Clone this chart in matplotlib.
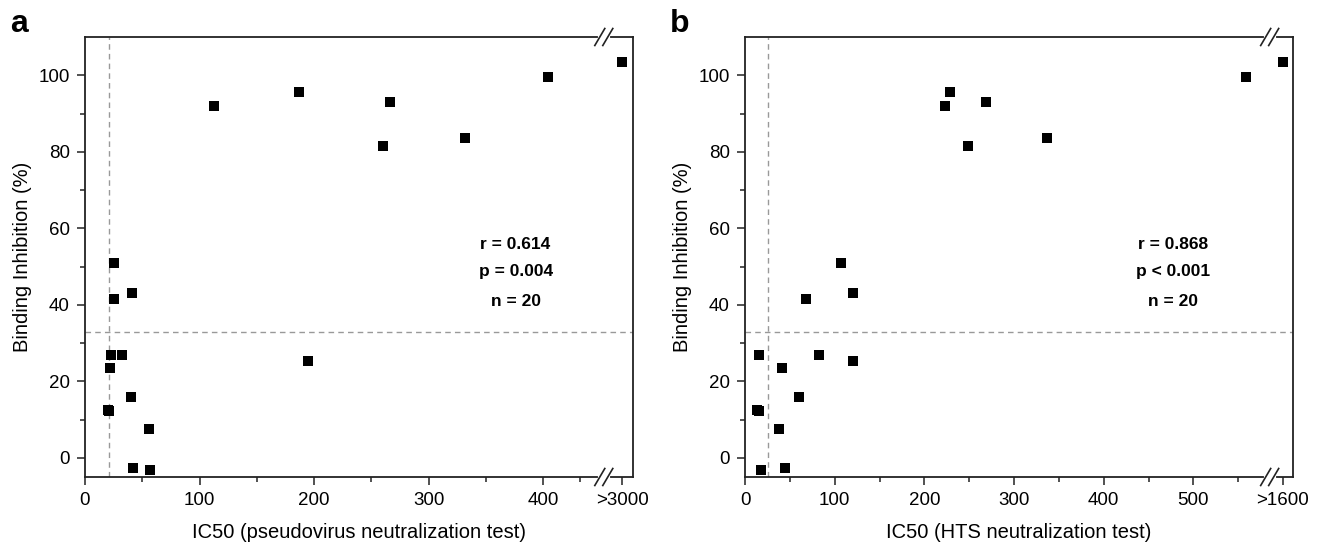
import matplotlib.pyplot as plt
from matplotlib.lines import Line2D

plt.rcParams['font.family'] = ['Liberation Sans', 'DejaVu Sans']

# ---- data ----
# binding inhibition (%) per serum, same sample order in both panels
inhib = [91.9, 95.6, 93.1, 81.5, 83.5, 99.6, 103.5, 51.0, 43.1, 41.4,
         27.0, 27.0, 23.4, 25.2, 16.0, 12.4, 12.2, 7.6, -2.7, -3.3]
# IC50 values; the off-scale sample sits on the ">3000" / ">1600" slot
ic50_pseudo = [113, 187, 266, 260, 332, 404, 469, 25, 41, 25,
               23, 32, 22, 195, 40, 20, 21, 56, 42, 57]
ic50_hts = [223, 229, 269, 249, 337, 559, 600, 107, 120, 68,
            16, 82, 41, 120, 60, 13, 16, 38, 45, 18]

stats_a = ["r = 0.614", "p = 0.004", "n = 20"]
stats_b = ["r = 0.868", "p < 0.001", "n = 20"]

W, H = 1320, 546
fig = plt.figure(figsize=(W / 100, H / 100), dpi=100)

AX_W, AX_H = 548, 440
line_col = "#222222"


def panel(left_px, x, letter, xlabel, xmax, xbreak, off_pos, off_label,
          majors, minors, vline, stats, stats_x):
    ax = fig.add_axes([left_px / W, 1 - 477 / H, AX_W / W, AX_H / H])
    ax.scatter(x, inhib, marker="s", s=52, color="black", zorder=3,
               linewidths=0)
    ax.set_xlim(0, xmax)
    ax.set_ylim(-5, 110)

    ax.axvline(vline, color="#999999", lw=1, ls=(0, (4, 3)), zorder=1)
    ax.axhline(33, color="#999999", lw=1, ls=(0, (4, 3)), zorder=1)

    ax.set_xticks(majors + [off_pos])
    ax.set_xticklabels([str(v) for v in majors] + [off_label])
    ax.set_xticks(minors, minor=True)
    ax.set_yticks([0, 20, 40, 60, 80, 100])
    ax.set_yticks([10, 30, 50, 70, 90], minor=True)
    ax.tick_params(which="major", length=6, width=1.1, color=line_col,
                   labelsize=13.5, pad=5)
    ax.tick_params(which="minor", length=3.5, width=1.1, color=line_col)
    for s in ax.spines.values():
        s.set_color(line_col)
        s.set_linewidth(1.3)

    ax.set_xlabel(xlabel, fontsize=14.5)
    ax.xaxis.set_label_coords(0.5, -0.105)
    ax.set_ylabel("Binding Inhibition (%)", fontsize=14.5)
    ax.yaxis.set_label_coords(-0.097, 0.5)

    for t, yy in zip(stats, [55.7, 48.6, 41.0]):
        ax.text(stats_x, yy, t, ha="center", va="center", fontsize=12.5,
                fontweight="bold")

    # axis break marks on top and bottom spines
    cx = xbreak / xmax
    px, py = 1 / AX_W, 1 / AX_H
    for yb in (0, 1):
        ax.add_line(Line2D([cx - 4 * px, cx + 4 * px], [yb, yb], color="white",
                           lw=3, transform=ax.transAxes, clip_on=False,
                           zorder=5))
        for off in (-4, 4):
            ax.add_line(Line2D([cx + (off - 5) * px, cx + (off + 5) * px],
                               [yb - 8.5 * py, yb + 8.5 * py], color=line_col,
                               lw=1.2, transform=ax.transAxes, clip_on=False,
                               zorder=6))

    fig.text((left_px - 75) / W, 1 - 32 / H, letter, fontsize=23,
             fontweight="bold", ha="left", va="baseline")
    return ax


panel(85, ic50_pseudo, "a", "IC50 (pseudovirus neutralization test)",
      478.5, 453, 469, ">3000", [0, 100, 200, 300, 400],
      [50, 150, 250, 350, 432], 20.6, stats_a, 376)
panel(745, ic50_hts, "b", "IC50 (HTS neutralization test)",
      611, 585, 599.5, ">1600", [0, 100, 200, 300, 400, 500],
      [50, 150, 250, 350, 450, 550], 26.2, stats_b, 477)

fig.savefig("out.png", dpi=100)
